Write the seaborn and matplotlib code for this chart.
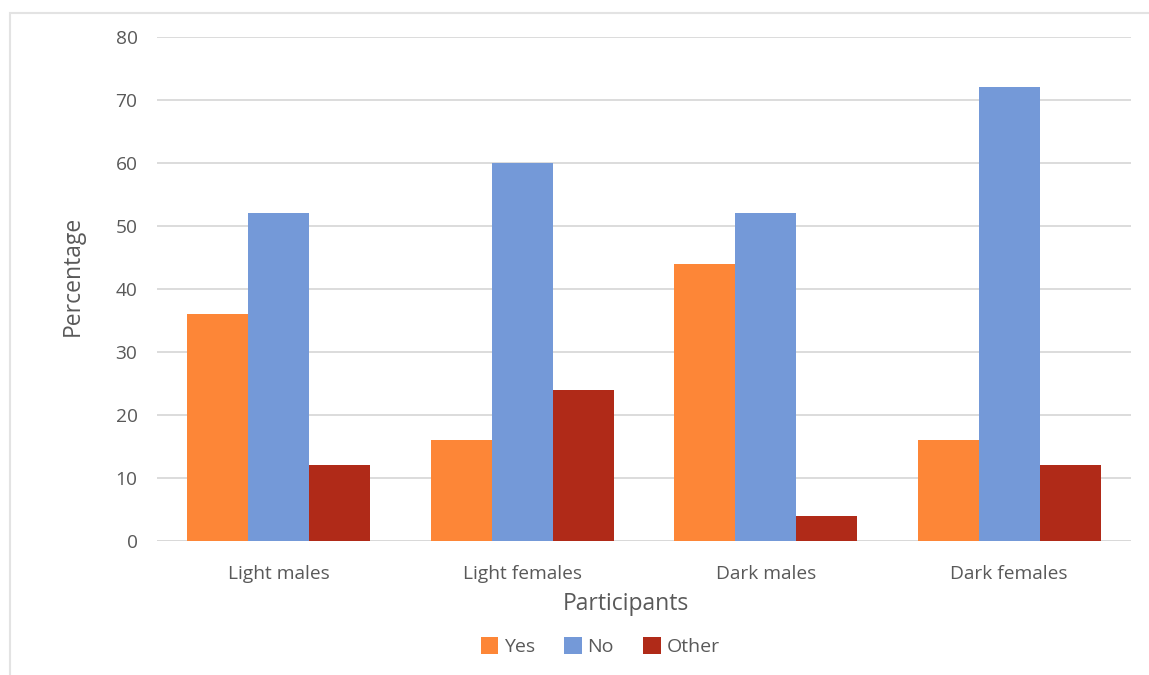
import matplotlib
matplotlib.use("Agg")
import matplotlib.pyplot as plt
import seaborn as sns
import pandas as pd
from matplotlib.patches import Rectangle

# Survey responses by participant group (percent)
categories = ["Light males", "Light females", "Dark males", "Dark females"]
responses = ["Yes", "No", "Other"]
yes_values = [36, 16, 44, 16]
no_values = [52, 60, 52, 72]
other_values = [12, 24, 4, 12]
y_ticks = [0, 10, 20, 30, 40, 50, 60, 70, 80]

colors = ["#FD8637", "#7499D8", "#B02A18"]

df = pd.DataFrame({
    "Participants": categories * 3,
    "Response": ["Yes"] * 4 + ["No"] * 4 + ["Other"] * 4,
    "Percentage": yes_values + no_values + other_values,
})

sns.set_theme(style="white")
plt.rcParams["font.family"] = ["Open Sans", "DejaVu Sans"]

fig = plt.figure(figsize=(11.49, 6.75), dpi=100)
ax = fig.add_axes([0.1366, 0.1985, 0.8477, 0.7467])

sns.barplot(data=df, x="Participants", y="Percentage", hue="Response",
            hue_order=responses, order=categories, palette=colors,
            width=0.75, gap=0, saturation=1, linewidth=0, ax=ax, legend=True)

ax.set_ylim(0, 80)
ax.set_xlim(-0.5, 3.5)
ax.set_yticks(y_ticks)
ax.yaxis.grid(True, color="#D9D9D9", linewidth=1.3)
ax.set_axisbelow(True)
for s in ax.spines.values():
    s.set_visible(False)
ax.axhline(0, color="#D9D9D9", linewidth=1.3, zorder=0)
ax.tick_params(axis="both", length=0, colors="#595959", labelsize=13.8)
ax.tick_params(axis="x", pad=17)
ax.tick_params(axis="y", pad=14)
ax.set_xlabel("Participants", fontsize=16.5, color="#595959")
ax.set_ylabel("Percentage", fontsize=16.5, color="#595959")
ax.xaxis.set_label_coords(0.481, -0.101)
ax.yaxis.set_label_coords(-0.074, 0.526)

leg = ax.legend(loc="center", bbox_to_anchor=(0.455, -0.21), ncol=3,
                frameon=False, fontsize=14, handlelength=0.9, handleheight=0.9,
                handletextpad=0.3, columnspacing=1.5, labelcolor="#595959")

# outer chart frame
fig.patches.append(Rectangle((10 / 1149, -0.01), 1.0, 1 - 13 / 675 + 0.01,
                             transform=fig.transFigure, fill=False,
                             edgecolor="#E3E3E3", linewidth=1.5))

fig.savefig("out.png", dpi=100)
